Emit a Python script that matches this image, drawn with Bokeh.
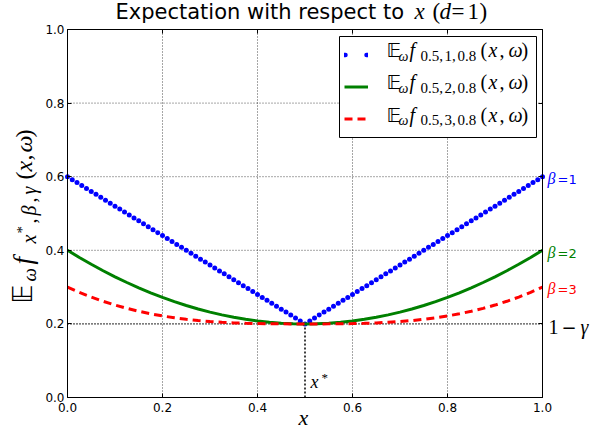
import math
from bokeh.plotting import figure
from bokeh.models import (Label, Legend, LegendItem, LinearAxis, FixedTicker,
                          PrintfTickFormatter, Range1d, BoxAnnotation)
from bokeh.embed import file_html
from bokeh.resources import INLINE

# ---------------- data ----------------
x_star = 0.5
gamma = 0.8
betas = [1, 2, 3]
ticks = [0.0, 0.2, 0.4, 0.6, 0.8, 1.0]

x_dots = [0.00, 0.01, 0.02, 0.03, 0.04, 0.05, 0.06, 0.07, 0.08, 0.09,
          0.10, 0.11, 0.12, 0.13, 0.14, 0.15, 0.16, 0.17, 0.18, 0.19,
          0.20, 0.21, 0.22, 0.23, 0.24, 0.25, 0.26, 0.27, 0.28, 0.29,
          0.30, 0.31, 0.32, 0.33, 0.34, 0.35, 0.36, 0.37, 0.38, 0.39,
          0.40, 0.41, 0.42, 0.43, 0.44, 0.45, 0.46, 0.47, 0.48, 0.49,
          0.50,
          0.51, 0.52, 0.53, 0.54, 0.55, 0.56, 0.57, 0.58, 0.59, 0.60,
          0.61, 0.62, 0.63, 0.64, 0.65, 0.66, 0.67, 0.68, 0.69, 0.70,
          0.71, 0.72, 0.73, 0.74, 0.75, 0.76, 0.77, 0.78, 0.79, 0.80,
          0.81, 0.82, 0.83, 0.84, 0.85, 0.86, 0.87, 0.88, 0.89, 0.90,
          0.91, 0.92, 0.93, 0.94, 0.95, 0.96, 0.97, 0.98, 0.99, 1.00]
y_beta1 = [0.600, 0.592, 0.584, 0.576, 0.568, 0.560, 0.552, 0.544, 0.536, 0.528,
           0.520, 0.512, 0.504, 0.496, 0.488, 0.480, 0.472, 0.464, 0.456, 0.448,
           0.440, 0.432, 0.424, 0.416, 0.408, 0.400, 0.392, 0.384, 0.376, 0.368,
           0.360, 0.352, 0.344, 0.336, 0.328, 0.320, 0.312, 0.304, 0.296, 0.288,
           0.280, 0.272, 0.264, 0.256, 0.248, 0.240, 0.232, 0.224, 0.216, 0.208,
           0.200,
           0.208, 0.216, 0.224, 0.232, 0.240, 0.248, 0.256, 0.264, 0.272, 0.280,
           0.288, 0.296, 0.304, 0.312, 0.320, 0.328, 0.336, 0.344, 0.352, 0.360,
           0.368, 0.376, 0.384, 0.392, 0.400, 0.408, 0.416, 0.424, 0.432, 0.440,
           0.448, 0.456, 0.464, 0.472, 0.480, 0.488, 0.496, 0.504, 0.512, 0.520,
           0.528, 0.536, 0.544, 0.552, 0.560, 0.568, 0.576, 0.584, 0.592, 0.600]

x_curve = [0.000, 0.025, 0.050, 0.075, 0.100, 0.125, 0.150, 0.175, 0.200, 0.225,
           0.250, 0.275, 0.300, 0.325, 0.350, 0.375, 0.400, 0.425, 0.450, 0.475,
           0.500,
           0.525, 0.550, 0.575, 0.600, 0.625, 0.650, 0.675, 0.700, 0.725, 0.750,
           0.775, 0.800, 0.825, 0.850, 0.875, 0.900, 0.925, 0.950, 0.975, 1.000]
y_beta2 = [0.4000, 0.3805, 0.3620, 0.3445, 0.3280, 0.3125, 0.2980, 0.2845, 0.2720, 0.2605,
           0.2500, 0.2405, 0.2320, 0.2245, 0.2180, 0.2125, 0.2080, 0.2045, 0.2020, 0.2005,
           0.2000,
           0.2005, 0.2020, 0.2045, 0.2080, 0.2125, 0.2180, 0.2245, 0.2320, 0.2405, 0.2500,
           0.2605, 0.2720, 0.2845, 0.2980, 0.3125, 0.3280, 0.3445, 0.3620, 0.3805, 0.4000]
y_beta3 = [0.3000, 0.2857, 0.2729, 0.2614, 0.2512, 0.2422, 0.2343, 0.2275, 0.2216, 0.2166,
           0.2125, 0.2091, 0.2064, 0.2043, 0.2027, 0.2016, 0.2008, 0.2003, 0.2001, 0.2000,
           0.2000,
           0.2000, 0.2001, 0.2003, 0.2008, 0.2016, 0.2027, 0.2043, 0.2064, 0.2091, 0.2125,
           0.2166, 0.2216, 0.2275, 0.2343, 0.2422, 0.2512, 0.2614, 0.2729, 0.2857, 0.3000]

colors = ["#0000ff", "#008000", "#ff0000"]
end_values = [y_beta1[-1], y_beta2[-1], y_beta3[-1]]

# ---------------- layout (pixels of the page) ----------------
W, H = 590, 431
PL, PR, PT, PB = 67, 542, 29, 397   # plot box edges in page pixels


def X(px):
    return (px - PL) / (PR - PL)


def Y(py):
    return (PB - py) / (PB - PT)


p = figure(width=W, height=H, output_backend="svg", toolbar_location=None,
           x_range=Range1d(X(0), X(W)), y_range=Range1d(Y(H), Y(0)),
           min_border=0, x_axis_location=None, y_axis_location=None)
p.background_fill_color = "white"
p.border_fill_color = "white"
p.outline_line_color = None
p.xgrid.visible = False
p.ygrid.visible = False

SERIF = "Liberation Serif"
SANS = "DejaVu Sans"
SHIFT = 0.32   # baseline correction (fraction of font size)


def txt(s, px, py, size, font=SERIF, style="normal", color="black",
        angle=0.0, align="left", baseline="alphabetic"):
    if angle:
        px = px - SHIFT * size
    else:
        py = py - SHIFT * size
    p.add_layout(Label(x=X(px), y=Y(py), text=s, text_font=font,
                       text_font_style=style, text_font_size=f"{size}px",
                       text_color=color, angle=angle, text_align=align,
                       text_baseline=baseline))


def make_axis(loc, labels, standoff):
    ax = LinearAxis(fixed_location=loc, bounds=(ticks[0], ticks[-1]))
    ax.ticker = FixedTicker(ticks=ticks)
    ax.formatter = PrintfTickFormatter(format="%.1f")
    ax.major_tick_in = 4
    ax.major_tick_out = 0
    ax.minor_tick_in = 0
    ax.minor_tick_out = 0
    ax.axis_line_color = "black"
    ax.axis_line_width = 1
    ax.major_tick_line_color = "black"
    ax.major_label_text_font = SANS
    ax.major_label_text_font_size = "12px"
    ax.major_label_text_color = "black" if labels else None
    ax.major_label_standoff = standoff
    return ax


# grid (dotted), drawn from the tick values
n = len(ticks)
p.segment(x0=ticks, y0=[ticks[0]] * n, x1=ticks, y1=[ticks[-1]] * n,
          line_color="black", line_alpha=0.7, line_width=1, line_dash="1 2",
          level="underlay")
p.segment(x0=[ticks[0]] * n, y0=ticks, x1=[ticks[-1]] * n, y1=ticks,
          line_color="black", line_alpha=0.7, line_width=1, line_dash="1 2",
          level="underlay")

# legend frame
p.add_layout(BoxAnnotation(left=X(339), right=X(536), top=Y(36), bottom=Y(137),
                           fill_color="white", fill_alpha=1,
                           line_color="black", line_width=1, line_alpha=1,
                           level="underlay"))

# reference lines: 1-gamma and x*
p.line(x=[ticks[0], ticks[-1]], y=[1 - gamma, 1 - gamma], line_color="black",
       line_width=1.3, line_dash="1 2")
p.segment(x0=[x_star], y0=[ticks[0]], x1=[x_star], y1=[1 - gamma],
          line_color="black", line_width=1.5, line_dash="2 2")

# series
r1 = p.scatter(x=x_dots, y=y_beta1, size=5, marker="circle",
               fill_color=colors[0], line_color=colors[0], line_width=0)
r2 = p.line(x=x_curve, y=y_beta2, line_color=colors[1], line_width=3)
r3 = p.line(x=x_curve, y=y_beta3, line_color=colors[2], line_width=3,
            line_dash="8 5")
# legend swatch for the dotted series (drawn off-view, only shows in legend)
p.extra_x_ranges = {"offview": Range1d(start=10, end=11)}
proxy1 = p.line(x=x_dots, y=y_beta1, x_range_name="offview",
                line_color=colors[0], line_width=4.5, line_dash="1 21",
                line_cap="round")

# axes (box)
p.add_layout(make_axis(0, True, 5), "below")
p.add_layout(make_axis(0, True, 3), "left")
p.add_layout(make_axis(1, False, 0), "above")
p.add_layout(make_axis(1, False, 0), "right")

legend = Legend(items=[LegendItem(label=" ", renderers=[proxy1]),
                       LegendItem(label=" ", renderers=[r2]),
                       LegendItem(label=" ", renderers=[r3])],
                location=(344, H - 131), margin=0, padding=5, spacing=7,
                glyph_width=24, glyph_height=25, label_height=25,
                label_width=146, label_standoff=12,
                border_line_color=None, background_fill_alpha=0,
                label_text_font_size="10px", label_text_color=None)
p.add_layout(legend)

# legend math text
for i, b in enumerate(betas):
    B = 56 + i * 32.2
    sub = B + 4
    txt("\U0001D53C", 386, B, 20, font=SANS)
    txt("\u03c9", 398, sub, 14, style="italic")
    txt("f", 409, B, 20, style="italic")
    txt(f"{x_star},", 420, sub, 15)
    txt(f"{b},", 444, sub, 15)
    txt(f"{gamma}", 457, sub, 15)
    txt("(", 480, B, 20)
    txt("x", 488, B, 20, style="italic")
    txt(",", 499, B, 20)
    txt("\u03c9", 508, B, 20, style="italic")
    txt(")", 521, B, 20)

# title
TB = 18
txt("Expectation with respect to", 115, TB, 21, font=SANS)
txt("x", 414, TB, 23, style="italic")
txt("(", 432, TB, 23)
txt("d", 439, TB, 23, style="italic")
txt("=", 451, TB, 23)
txt("1", 467, TB, 23)
txt(")", 479, TB, 23)

# y axis label (rotated)
A = math.pi / 2
YB = 31
YS = 35
txt("\U0001D53C", YB, 303, 26, font=SANS, angle=A)
txt("\u03c9", YS, 281, 19, style="italic", angle=A)
txt("f", YB, 264, 27, style="italic", angle=A)
txt("x", YS, 243, 20, style="italic", angle=A)
txt("*", 26, 233, 15, angle=A)
txt(",", YS, 223, 20, angle=A)
txt("\u03b2", YS, 215, 20, style="italic", angle=A)
txt(",", YS, 202, 20, angle=A)
txt("\u03b3", YS, 194, 20, style="italic", angle=A)
txt("(", YB, 179, 24, angle=A)
txt("x", YB, 171, 24, style="italic", angle=A)
txt(",", YB, 160, 24, angle=A)
txt("\u03c9", YB, 152, 24, style="italic", angle=A)
txt(")", YB, 137, 24, angle=A)

# x axis label
txt("x", 298, 424, 22, style="italic")

# x* marker label
txt("x", 310, 387, 18, style="italic")
txt("*", 321, 381, 13)

# right-side labels
for b, v, c in zip(betas, end_values, colors):
    py = PB - v * (PB - PT) + 7
    txt("\u03b2", 547, py, 16, style="italic", color=c)
    txt(f"={b}", 557, py, 13, font=SANS, color=c)

py_g = PB - (1 - gamma) * (PB - PT) + 9
txt("1", 548, py_g, 20)
txt("\u2212", 561, py_g, 18, font=SANS)
txt("\u03b3", 580, py_g, 20, style="italic")

open("out.html", "w").write(file_html(p, INLINE))
